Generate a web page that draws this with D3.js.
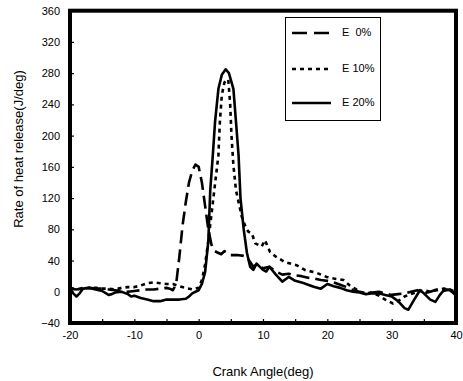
<!DOCTYPE html>
<html>
<head>
<meta charset="utf-8">
<script src="https://cdn.jsdelivr.net/npm/d3@7"></script>
<style>
  body { margin: 0; background: #fff; }
  svg { display: block; font-family: Arial, "Liberation Sans", sans-serif; }
  .tick text { font-size: 11px; fill: #000; }
  .tick line { stroke: #000; stroke-width: 1.2; }
</style>
</head>
<body>
<script>
// Datos
const seriesNames = ["E  0%", "E 10%", "E 20%"];

const angE0 = [-20, -19, -18, -17, -16, -15, -14, -13, -12, -11, -10, -9, -8, -7, -6, -5, -4.5, -4, -3.5, -3, -2.5, -2, -1.5, -1, -0.5, 0, 0.5, 1, 1.5, 2, 2.5, 3, 3.5, 4, 4.5, 5, 6, 7, 7.5, 8, 8.5, 9, 10, 11, 12, 13, 14, 15, 16, 17, 18, 19, 20, 21, 22, 23, 24, 25, 26, 27, 28, 29, 30, 31, 32, 33, 34, 35, 36, 37, 38, 39, 40];
const hrrE0 = [4, 3, 5, 5, 4, 4, 3, 2, 1, 0, 1, 2, 3, 3, 4, 5, 4, 2, 10, 45, 85, 115, 140, 155, 163, 160, 140, 110, 80, 60, 52, 50, 48, 52, 50, 47, 47, 46, 45, 38, 32, 35, 30, 32, 26, 22, 23, 21, 20, 18, 17, 15, 14, 12, 9, 6, 2, 0, -2, -1, 0, -2, -4, -3, -2, 0, 2, -2, 0, 3, 4, 2, -3];

const angE10 = [-20, -19, -18, -17, -16, -15, -14, -13, -12, -11, -10, -9, -8, -7, -6, -5, -4, -3, -2, -1, 0, 0.5, 1, 1.5, 2, 2.5, 3.07, 3.3, 3.6, 4, 4.6, 4.9, 5.1, 5.4, 5.8, 6.2, 6.7, 7.2, 7.7, 8.25, 8.8, 9.3, 9.8, 10.3, 11.1, 12, 13.4, 15.2, 16.5, 18.4, 19.9, 21, 22.5, 23.5, 24.5, 25, 26, 27, 28, 29, 30.2, 31, 32, 33, 34, 35, 36, 37, 38, 39, 40];
const hrrE10 = [5, 3, 4, 5, 5, 4, 4, 3, 5, 6, 6, 8, 11, 12, 11, 10, 10, 7, 5, 3, 5, 15, 35, 65, 100, 135, 175, 218, 252, 268, 272, 240, 200, 162, 130, 115, 96, 85, 77, 75, 62, 60, 58, 66, 51, 45, 38, 34, 28, 24, 19, 17, 15, 8, 3, 0, -2, -1, -5, -10, -15, -12, -6, -3, 0, 2, 0, 2, 4, 3, 0];

const angE20 = [-20, -19.5, -19, -18.5, -18, -17, -16, -15, -14, -13.5, -13, -12, -11, -10.5, -10, -9, -8, -7, -6, -5, -4, -3, -2, -1.5, -1, -0.5, 0, 0.5, 1, 1.5, 1.8, 2.2, 2.55, 3.07, 3.6, 4.2, 4.7, 5.4, 5.8, 6.2, 6.5, 7, 7.5, 8, 8.5, 9, 10, 10.5, 11, 12, 13, 14, 15, 16, 17, 18, 19, 20, 21, 22, 23, 24, 25, 26, 27, 28, 29, 30, 31, 32, 32.6, 33.5, 34.4, 35, 36, 36.8, 37.5, 38, 39, 40];
const hrrE20 = [5, -2, -6, -2, 4, 5, 3, 1, -4, -3, -1, 0, -3, -6, -5, -8, -10, -12, -12, -10, -10, -10, -9, -6, -2, 0, 2, 10, 25, 65, 130, 175, 218, 260, 278, 285, 280, 260, 218, 175, 120, 80, 50, 32, 28, 36, 28, 26, 32, 22, 13, 19, 14, 12, 9, 6, 4, 10, 7, 5, 2, 0, -1, -3, -2, -2, -4, -6, -12, -21, -23, -10, 2, -2, -10, -13, -4, 1, 3, -5];

const xTicks = [-20, -15, -10, -5, 0, 5, 10, 15, 20, 25, 30, 35, 40];
const yTicks = [-40, 0, 40, 80, 120, 160, 200, 240, 280, 320, 360];

const series = [
  { name: seriesNames[0], x: angE0, y: hrrE0, dash: "13,6" },
  { name: seriesNames[1], x: angE10, y: hrrE10, dash: "4,4" },
  { name: seriesNames[2], x: angE20, y: hrrE20, dash: null }
];

const width = 463, height = 381;
const margin = { left: 70, right: 456, top: 10.7, bottom: 323 };

const svg = d3.select("body").append("svg")
  .attr("width", width)
  .attr("height", height);

const xScale = d3.scaleLinear().domain([-20, 40]).range([margin.left, margin.right]);
const yScale = d3.scaleLinear().domain([-40, 360]).range([margin.bottom, margin.top]);

// Eje X (marcas hacia dentro)
svg.append("g")
  .attr("transform", `translate(0,${margin.bottom})`)
  .call(d3.axisBottom(xScale)
    .tickValues(xTicks)
    .tickSizeInner(-4).tickSizeOuter(0).tickPadding(8)
    .tickFormat(d => d % 10 === 0 ? d : ""))
  .call(g => g.select(".domain").remove());

// Eje Y
svg.append("g")
  .attr("transform", `translate(${margin.left},0)`)
  .call(d3.axisLeft(yScale)
    .tickValues(yTicks)
    .tickSizeInner(-4).tickSizeOuter(0).tickPadding(10))
  .call(g => g.select(".domain").remove());

// Lineas
const line = d3.line()
  .x(d => xScale(d[0]))
  .y(d => yScale(d[1]));

series.forEach(s => {
  svg.append("path")
    .datum(s.x.map((a, i) => [a, s.y[i]]))
    .attr("fill", "none")
    .attr("stroke", "#000")
    .attr("stroke-width", 2.6)
    .attr("stroke-dasharray", s.dash)
    .attr("stroke-linejoin", "round")
    .attr("d", line);
});

// Marco
svg.append("rect")
  .attr("x", margin.left).attr("y", margin.top)
  .attr("width", margin.right - margin.left).attr("height", margin.bottom - margin.top)
  .attr("fill", "none").attr("stroke", "#000").attr("stroke-width", 4);

// Leyenda
const legend = svg.append("g");
legend.append("rect")
  .attr("x", 285.5).attr("y", 17.5).attr("width", 95).attr("height", 103)
  .attr("fill", "#fff").attr("stroke", "#000").attr("stroke-width", 1);

const legendY = [33, 69, 103];
series.forEach((s, i) => {
  legend.append("line")
    .attr("x1", 292).attr("x2", 331)
    .attr("y1", legendY[i]).attr("y2", legendY[i])
    .attr("stroke", "#000").attr("stroke-width", 2.6)
    .attr("stroke-dasharray", i === 0 ? "15,7" : s.dash);
  legend.append("text")
    .attr("x", 342).attr("y", legendY[i])
    .attr("dominant-baseline", "middle")
    .style("font-size", "11px")
    .style("white-space", "pre")
    .text(s.name);
});

// Titulos de ejes
svg.append("text")
  .attr("x", 263).attr("y", 376)
  .attr("text-anchor", "middle")
  .style("font-size", "13px")
  .text("Crank Angle(deg)");

svg.append("text")
  .attr("transform", "translate(23,149) rotate(-90)")
  .attr("text-anchor", "middle")
  .style("font-size", "13px")
  .text("Rate of heat release(J/deg)");
</script>
</body>
</html>
